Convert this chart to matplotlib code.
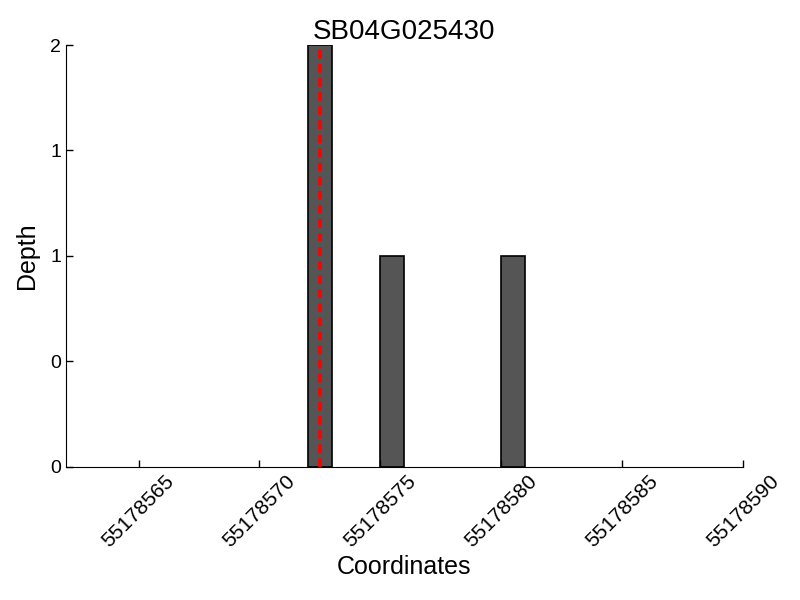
import matplotlib
matplotlib.use('Agg')
import matplotlib.pyplot as plt
from matplotlib.ticker import FormatStrFormatter

plt.rcParams['font.family'] = ['Liberation Sans', 'DejaVu Sans']

positions = [55178572, 55178575, 55178580]
depths = [2, 1, 1]
marker_pos = 55178572.5
x_ticks = [55178565, 55178570, 55178575, 55178580, 55178585, 55178590]
y_ticks = [0, 0.5, 1, 1.5, 2]

fig = plt.figure(figsize=(8, 6), dpi=100)
ax = fig.add_axes([0.0825, 0.2217, 0.84625, 0.7033])

ax.bar(positions, depths, width=1, align='edge', color='#555555', edgecolor='black', linewidth=1.2)
ax.axvline(marker_pos, color='#ff0000', linestyle='--', linewidth=2.6, dashes=(2.4, 1.5))

ax.set_xlim(55178562, 55178590)
ax.set_ylim(0, 2)
ax.set_xticks(x_ticks)
ax.set_xticklabels([str(t) for t in x_ticks], rotation=45, fontsize=15)
ax.set_yticks(y_ticks)
ax.yaxis.set_major_formatter(FormatStrFormatter('%d'))
ax.tick_params(axis='y', labelsize=14)
ax.tick_params(direction='in', length=5, width=1)

ax.spines['top'].set_visible(False)
ax.spines['right'].set_visible(False)

ax.set_title('SB04G025430', fontsize=20, pad=2)
ax.set_xlabel('Coordinates', fontsize=18, labelpad=3)
ax.set_ylabel('Depth', fontsize=18, labelpad=8)

fig.savefig('out.png', dpi=100)
